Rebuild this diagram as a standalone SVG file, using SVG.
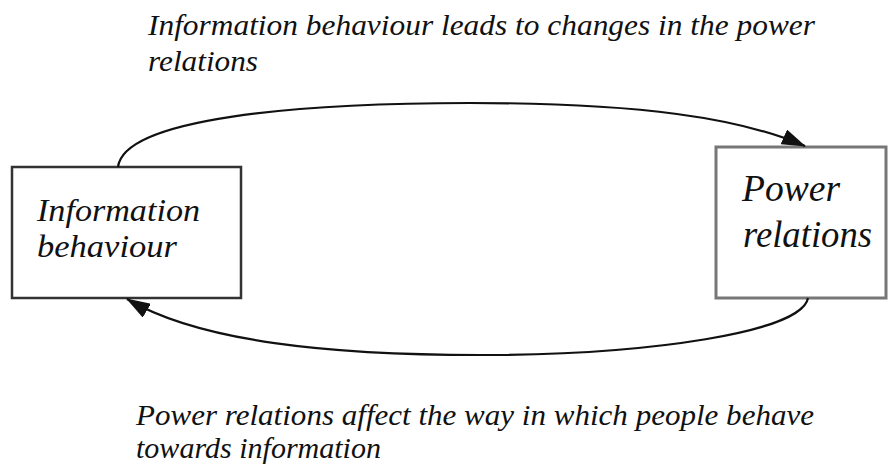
<svg xmlns="http://www.w3.org/2000/svg" width="889" height="465" viewBox="0 0 889 465">
<style>
.t{font-family:"Liberation Serif","Times New Roman",serif;font-style:italic;fill:#111;}
.cap{font-size:30px;}
.lbl{font-size:32px;}
.lbr{font-size:37px;}
.box{fill:#fff;}
.con{fill:none;stroke:#111;stroke-width:2.2;}
</style>
<defs>
<marker id="ah" viewBox="0 0 24 16" refX="23" refY="8" markerWidth="24" markerHeight="16" markerUnits="userSpaceOnUse" orient="auto">
<path d="M0,0 L24,8 L0,16 Z" fill="#111"/>
</marker>
</defs>
<rect width="889" height="465" fill="#fff"/>
<text class="t cap" x="148" y="35" textLength="667" lengthAdjust="spacingAndGlyphs">Information behaviour leads to changes in the power</text>
<text class="t cap" x="148" y="71" textLength="110" lengthAdjust="spacingAndGlyphs">relations</text>
<text class="t cap" x="136" y="425" textLength="678" lengthAdjust="spacingAndGlyphs">Power relations affect the way in which people behave</text>
<text class="t cap" x="136" y="458" textLength="245" lengthAdjust="spacingAndGlyphs">towards information</text>
<g id="node-info">
<rect class="box" x="12" y="167" width="229" height="131" stroke="#333" stroke-width="2.5"/>
<text class="t lbl" x="37" y="221" textLength="163" lengthAdjust="spacingAndGlyphs">Information</text>
<text class="t lbl" x="37" y="257" textLength="140" lengthAdjust="spacingAndGlyphs">behaviour</text>
</g>
<g id="node-power">
<rect class="box" x="716" y="147" width="170" height="151" stroke="#777" stroke-width="3"/>
<text class="t lbr" x="742" y="201" textLength="98" lengthAdjust="spacingAndGlyphs">Power</text>
<text class="t lbr" x="743" y="247" textLength="129" lengthAdjust="spacingAndGlyphs">relations</text>
</g>
<g id="connectors">
<path class="con" d="M118,167 C124,118 300,103 470,103 C640,103 740,118 805,146" marker-end="url(#ah)"/>
<path class="con" d="M808,298 C802,332 650,355 480,355 C330,355 200,342 127,299" marker-end="url(#ah)"/>
</g>
</svg>
